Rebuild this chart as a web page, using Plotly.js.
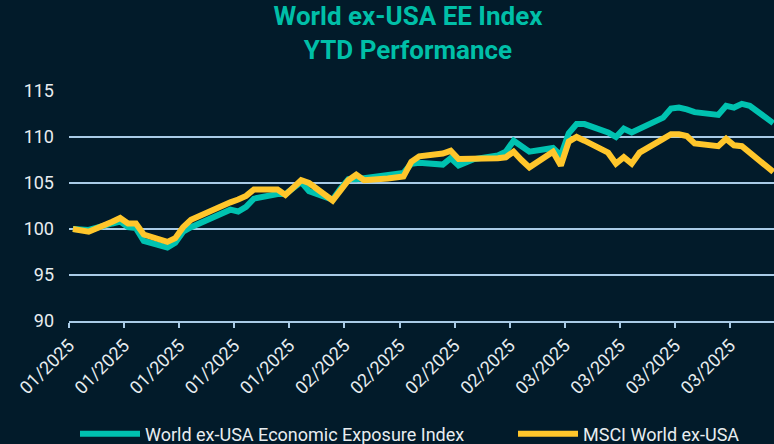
<!DOCTYPE html>
<html>
<head>
<meta charset="utf-8">
<script src="https://cdn.plot.ly/plotly-3.0.1.min.js"></script>
<style>
  html, body { margin: 0; padding: 0; background: #021b2a; }
  #chart { width: 774px; height: 444px; }
</style>
</head>
<body>
<div id="chart"></div>
<script>
// Trading days (timestamps at noon)
const dates = [
  "2025-01-01","2025-01-02","2025-01-03","2025-01-06","2025-01-07","2025-01-08","2025-01-09","2025-01-10",
  "2025-01-13","2025-01-14","2025-01-15","2025-01-16","2025-01-17",
  "2025-01-20","2025-01-21","2025-01-22","2025-01-23","2025-01-24",
  "2025-01-27","2025-01-28","2025-01-29","2025-01-30","2025-01-31",
  "2025-02-03","2025-02-04","2025-02-05","2025-02-06","2025-02-07",
  "2025-02-10","2025-02-11","2025-02-12","2025-02-13","2025-02-14",
  "2025-02-17","2025-02-18","2025-02-19","2025-02-20","2025-02-21",
  "2025-02-24","2025-02-25","2025-02-26","2025-02-27","2025-02-28",
  "2025-03-03","2025-03-04","2025-03-05","2025-03-06","2025-03-07",
  "2025-03-10","2025-03-11","2025-03-12","2025-03-13","2025-03-14",
  "2025-03-17","2025-03-18","2025-03-19","2025-03-20","2025-03-21",
  "2025-03-24","2025-03-25","2025-03-26","2025-03-27","2025-03-28",
  "2025-03-31"
];

const eeIndex = [
  100.0, 100.0, 99.9, 100.6, 100.8, 100.2, 100.1, 98.7,
  98.0, 98.5, 99.7, 100.2, 100.6,
  101.7, 102.1, 101.9, 102.4, 103.3,
  103.8, 103.8, 104.5, 105.1, 104.1,
  103.2, 104.4, 105.4, 105.4, 105.5,
  105.9, 106.0, 106.1, 107.1, 107.2,
  107.0, 107.7, 106.9, 107.3, 107.6,
  108.0, 108.4, 109.6, 108.9, 108.4,
  108.8, 108.0, 110.4, 111.4, 111.4,
  110.5, 110.0, 110.9, 110.5, 110.9,
  112.1, 113.1, 113.2, 113.0, 112.7,
  112.4, 113.4, 113.2, 113.6, 113.4,
  111.5
];

const msciWorldExUsa = [
  100.0, 99.9, 99.7, 100.8, 101.2, 100.6, 100.6, 99.4,
  98.6, 99.0, 100.2, 101.0, 101.4,
  102.5, 102.9, 103.2, 103.6, 104.3,
  104.3, 103.7, 104.5, 105.3, 105.0,
  103.1, 104.2, 105.3, 105.9, 105.3,
  105.5, 105.6, 105.7, 107.3, 107.9,
  108.2, 108.5, 107.6, 107.6, 107.7,
  107.7, 107.8, 108.4, 107.5, 106.7,
  108.4, 106.9, 109.5, 110.0, 109.6,
  108.3, 107.1, 107.8, 107.1, 108.3,
  109.8, 110.3, 110.3, 110.1, 109.3,
  109.0, 109.8, 109.1, 109.0, 108.3,
  106.2
];

const seriesNames = ["World ex-USA Economic Exposure Index", "MSCI World ex-USA"];
const titleLines = ["World ex-USA EE Index", "YTD Performance"];
const yTicks = [90, 95, 100, 105, 110, 115];

const x = dates.map(d => d + " 12:00");

const traces = [
  {
    x: x, y: eeIndex, name: seriesNames[0], type: "scatter", mode: "lines",
    line: { color: "#00c2b0", width: 6, shape: "linear" }, legend: "legend"
  },
  {
    x: x, y: msciWorldExUsa, name: seriesNames[1], type: "scatter", mode: "lines",
    line: { color: "#ffc62b", width: 6, shape: "linear" }, legend: "legend2"
  }
];

const legendCommon = {
  orientation: "h",
  xanchor: "left",
  yref: "container", yanchor: "middle", y: 10 / 444,
  font: { size: 18, color: "#e8edf0" },
  bgcolor: "rgba(0,0,0,0)",
  itemwidth: 60
};

const layout = {
  width: 774, height: 444,
  paper_bgcolor: "#021b2a",
  plot_bgcolor: "#021b2a",
  font: { family: "Roboto, 'Noto Sans', sans-serif", color: "#e8edf0", size: 18 },
  margin: { l: 69, r: 0, t: 91, b: 123, autoexpand: false },
  title: {
    text: titleLines.join("<br>"),
    font: { family: "Roboto, sans-serif", size: 26, color: "#00bfa8", weight: 700 },
    x: 408 / 774, xref: "container", xanchor: "center",
    y: 1 - 25 / 444, yref: "container", yanchor: "top"
  },
  showlegend: true,
  legend: Object.assign({}, legendCommon, { x: 75 / 774, xref: "container" }),
  legend2: Object.assign({}, legendCommon, { x: 513 / 774, xref: "container" }),
  xaxis: {
    type: "date",
    range: ["2025-01-01", "2025-03-31 14:00"],
    tick0: "2025-01-01",
    dtick: 7 * 86400000,
    tickformat: "%m/%Y",
    tickangle: -45,
    ticks: "outside", ticklen: 5, tickwidth: 2, tickcolor: "#a9cbe6",
    showline: true, linecolor: "#a9cbe6", linewidth: 2,
    showgrid: false, zeroline: false,
    tickfont: { size: 18, color: "#e8edf0" }
  },
  yaxis: {
    range: [90, 115],
    tickvals: yTicks,
    showgrid: true, gridcolor: "#a9cbe6", gridwidth: 2,
    zeroline: false, showline: false,
    ticks: "", ticklabelstandoff: 14,
    tickfont: { size: 18, color: "#e8edf0" }
  }
};

Plotly.newPlot("chart", traces, layout, { displayModeBar: false, staticPlot: true });
</script>
</body>
</html>
